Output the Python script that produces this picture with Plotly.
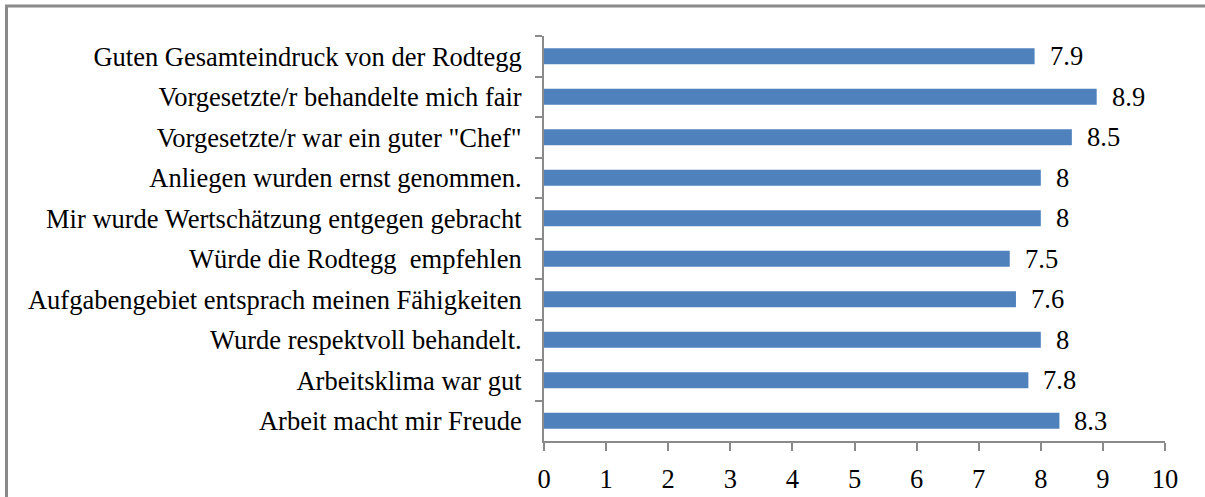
import plotly.graph_objects as go

categories = [
    "Guten Gesamteindruck von der Rodtegg",
    "Vorgesetzte/r behandelte mich fair",
    "Vorgesetzte/r war ein guter \"Chef\"",
    "Anliegen wurden ernst genommen.",
    "Mir wurde Wertschätzung entgegen gebracht",
    "Würde die Rodtegg  empfehlen",
    "Aufgabengebiet entsprach meinen Fähigkeiten",
    "Wurde respektvoll behandelt.",
    "Arbeitsklima war gut",
    "Arbeit macht mir Freude",
]
values = [7.9, 8.9, 8.5, 8, 8, 7.5, 7.6, 8, 7.8, 8.3]
x_ticks = list(range(0, 11))

FONT = "'Liberation Serif', 'Times New Roman', Times, serif"
FS = 26.5
GRAY = "#8a8a8a"

ycats = [c.replace("  ", "&nbsp; ") for c in categories]

fig = go.Figure()
fig.add_trace(go.Bar(
    y=ycats,
    x=values,
    orientation="h",
    marker=dict(color="#4F81BD", line=dict(width=0)),
    showlegend=False,
    hoverinfo="skip",
))

for c, v in zip(ycats, values):
    fig.add_annotation(
        x=v, y=c, xref="x", yref="y",
        text=f"{v:g}", showarrow=False, xanchor="left", yanchor="middle",
        xshift=13, font=dict(family=FONT, size=FS, color="black"),
    )

fig.update_layout(
    width=1205, height=497,
    margin=dict(l=544, r=40, t=36, b=56, autoexpand=False),
    paper_bgcolor="white", plot_bgcolor="white",
    bargap=0.6,
    font=dict(family=FONT, size=FS, color="black"),
    xaxis=dict(
        range=[0, 10], tickvals=x_ticks, ticktext=[str(t) for t in x_ticks],
        showgrid=False, zeroline=False,
        showline=True, linecolor=GRAY, linewidth=2,
        ticks="outside", ticklen=8, tickwidth=2, tickcolor=GRAY,
        ticklabelstandoff=5, automargin=False,
        tickfont=dict(family=FONT, size=FS, color="black"),
        fixedrange=True,
    ),
    yaxis=dict(
        autorange="reversed", type="category",
        showgrid=False, zeroline=False,
        showline=True, linecolor=GRAY, linewidth=2,
        ticks="outside", ticklen=7, tickwidth=2, tickcolor=GRAY,
        tickson="boundaries", ticklabelstandoff=15, automargin=False,
        tickfont=dict(family=FONT, size=FS, color="black"),
        fixedrange=True,
    ),
    shapes=[dict(
        type="rect", xref="paper", yref="paper",
        x0=(6.5 - 544) / 621, x1=(1215 - 544) / 621,
        y0=(441 - 505) / 405, y1=1 + (36 - 6) / 405,
        line=dict(color=GRAY, width=3), fillcolor="rgba(0,0,0,0)",
        layer="below",
    )],
)

fig.write_html(
    "out.html",
    config={"displayModeBar": False, "staticPlot": True},
    post_script="document.body.style.margin='0';document.body.style.overflow='hidden';",
)
